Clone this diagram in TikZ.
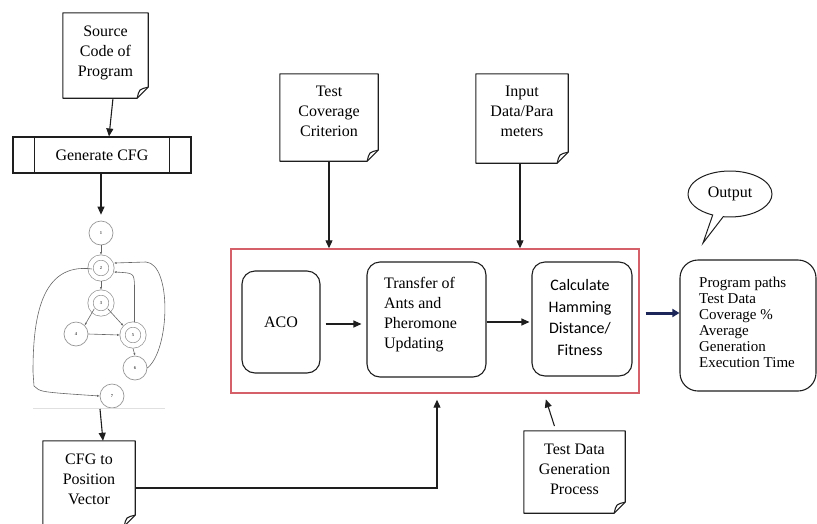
\documentclass[tikz,border=0pt]{standalone}
\usepackage{fontspec}
\setmainfont{Liberation Serif}
\newfontfamily\calibfont{Carlito}
\usetikzlibrary{arrows.meta,shapes.callouts,calc}

\definecolor{framered}{RGB}{214,96,106}
\definecolor{navyblue}{RGB}{28,38,88}
\definecolor{ink}{RGB}{30,30,30}
\definecolor{cfggray}{RGB}{150,150,150}

% outline of a document symbol with a folded lower right corner
\newcommand{\docoutline}[1]{%
  \draw[docline] (#1.north west) -- (#1.north east) -- ([yshift=11pt]#1.south east)
    -- ([xshift=-11pt]#1.south east) -- (#1.south west) -- cycle;
  \draw[docline] ([xshift=-11pt]#1.south east)
    .. controls ([xshift=-9pt,yshift=9pt]#1.south east) .. ([yshift=11pt]#1.south east);}

\begin{document}
\begin{tikzpicture}[x=1pt,y=-1pt,
  font=\fontsize{16}{19}\selectfont,
  docline/.style={draw=ink, line width=1.1pt, line join=round},
  docbox/.style={draw=none, inner sep=0pt},
  doctext/.style={align=center, font=\fontsize{16}{20}\selectfont},
  arr/.style={draw=ink, line width=1.1pt, -{Triangle[length=8pt,width=7pt]}},
  navyarr/.style={draw=navyblue, line width=3pt, -{Triangle[length=7pt,width=8pt]}},
  stepbox/.style={draw=ink, line width=1.1pt, rounded corners=13pt, inner sep=0pt},
  cfgnode/.style={circle, draw=cfggray, line width=0.7pt, minimum size=24pt, inner sep=0pt,
    font=\fontsize{4.5}{5}\selectfont\bfseries, text=black!70},
  cfgdouble/.style={cfgnode, minimum size=21pt, double=white, double distance=4.5pt},
  cfgedge/.style={draw=cfggray, line width=0.6pt, -{Latex[length=2.5pt,width=2.2pt]}, black!60}
]
\useasboundingbox (0,0) rectangle (817,523);

% ---------- left column: source code and control flow graph ----------
\node[docbox, minimum width=85pt, minimum height=85pt,
  label={[doctext,yshift=3pt]center:{Source\\Code of\\Program}}] (src) at (105.5,55.5) {};
\docoutline{src}

\node[draw=ink, line width=1.1pt, minimum width=178pt, minimum height=36pt, inner sep=0pt]
  (gen) at (102,155) {Generate CFG};
\draw[ink, line width=1.1pt] ([xshift=22pt]gen.north west) -- ([xshift=22pt]gen.south west);
\draw[ink, line width=1.1pt] ([xshift=-22pt]gen.north east) -- ([xshift=-22pt]gen.south east);

\draw[arr] ([xshift=7.5pt]src.south) -- ([xshift=7pt]gen.north);

% control flow graph
\node[cfgnode]   (n1) at (101,233) {1};
\node[cfgdouble] (n2) at (101,268) {2};
\node[cfgdouble] (n3) at (101,303) {3};
\node[cfgnode]   (n4) at (76,334)  {4};
\node[cfgdouble] (n5) at (133,335) {5};
\node[cfgnode]   (n6) at (135,368) {6};
\node[cfgnode]   (n7) at (112,396) {7};

\draw[arr] ([xshift=-1pt]gen.south) -- ([yshift=6pt]n1.north);

\draw[cfgedge] (n1) -- ([yshift=2.5pt]n2.north);
\draw[cfgedge] ([yshift=-2.5pt]n2.south) -- ([yshift=2.5pt]n3.north);
\draw[cfgedge] (n3.south west) ++(1pt,2pt) -- (n4.north east);
\draw[cfgedge] (n3.south east) ++(-1pt,2pt) -- ([shift={(-2pt,1.5pt)}]n5.north west);
\draw[cfgedge] (n4.east) -- ([xshift=-2.5pt]n5.west);
\draw[cfgedge] ([yshift=-2.5pt]n5.south) -- (n6.north);
\draw[cfgedge] ([xshift=1.5pt,yshift=2pt]n5.north) -- (134.5,286)
  .. controls (134,273) .. (114,272);
\draw[cfgedge] (n6.east) .. controls (170,350) and (172,264) .. (146,262) -- (114,263);
\draw[cfgedge] ([shift={(2pt,-1pt)}]n2.west) .. controls (40,262) and (33,320) .. (33,372)
  -- (34,386) .. controls (40,392) .. (n7.west);

\coordinate (cfgL) at (33,408);
\coordinate (cfgR) at (165,408);
\coordinate (cfgout) at (100,409);
\draw[black!12, line width=0.8pt] (cfgL) -- (cfgR);

\node[docbox, minimum width=92pt, minimum height=85pt,
  label={[doctext,yshift=4.5pt]center:{CFG to\\Position\\Vector}}] (cfgpos) at (89,483.5) {};
\docoutline{cfgpos}
\draw[arr] (cfgout) -- ([xshift=14pt]cfgpos.north);

% ---------- central process ----------
\node[draw=framered, line width=1.4pt, minimum width=408pt, minimum height=144pt, inner sep=0pt]
  (frame) at (435,321) {};

\node[docbox, minimum width=98pt, minimum height=87pt,
  label={[doctext,yshift=6pt]center:{Test\\Coverage\\Criterion}}] (tcc) at (329,117.5) {};
\docoutline{tcc}
\node[docbox, minimum width=92pt, minimum height=89pt,
  label={[doctext,yshift=7pt]center:{Input\\Data/Para\\meters}}] (inp) at (522,118.5) {};
\docoutline{inp}

\draw[arr] (tcc.south) -- (tcc.south |- frame.north);
\draw[arr] ([xshift=-2pt]inp.south) -- ([xshift=-2pt]inp.south |- frame.north);

\node[stepbox, minimum width=78pt, minimum height=102pt] (aco) at (281,322) {ACO};
\node[stepbox, minimum width=119pt, minimum height=115pt,
  label={[align=left, font=\fontsize{16}{20}\selectfont, xshift=-6pt, yshift=5pt]center:{Transfer of\\Ants and\\Pheromone\\Updating}}]
  (xfer) at (426.5,319.5) {};
\node[stepbox, minimum width=100pt, minimum height=114pt,
  label={[align=center, font=\calibfont\fontsize{16}{21.5}\selectfont, xshift=-2pt, yshift=1.5pt]center:{Calculate\\Hamming\\Distance/\\Fitness}}]
  (calc) at (582,319) {};

\draw[arr, shorten <=5pt, shorten >=5pt] ([yshift=-2pt]aco.east) -- ([yshift=-2pt]aco.east -| xfer.west);
\draw[arr, shorten >=2pt] ([yshift=-2.5pt]xfer.east) -- ([yshift=-2.5pt]xfer.east -| calc.west);

\node[docbox, minimum width=101pt, minimum height=82pt,
  label={[doctext,yshift=3pt]center:{Test Data\\Generation\\Process}}] (tdg) at (574.5,472) {};
\docoutline{tdg}

\draw[arr, shorten >=6pt] ([yshift=-4.5pt]cfgpos.east) -| ([xshift=2pt]frame.south);
\draw[arr, shorten <=5pt, shorten >=6pt] ([xshift=-18.5pt]tdg.north) -- ([xshift=109pt]frame.south);

% ---------- output ----------
\node[stepbox, rounded corners=18pt, minimum width=136pt, minimum height=131pt,
  label={[align=left, font=\fontsize{15}{16}\selectfont, xshift=-1pt, yshift=3pt]center:{Program paths\\Test Data\\Coverage \%\\Average\\Generation\\Execution Time}}]
  (out) at (748,325.5) {};

\node[ellipse callout, draw=ink, line width=1pt, minimum width=84pt, minimum height=46pt,
  callout absolute pointer={(703,243)}] (callout) at (730,194) {Output};

\draw[navyarr] ([xshift=6pt,yshift=8pt]frame.east) -- ([yshift=12.5pt]out.west);
\end{tikzpicture}
\end{document}
